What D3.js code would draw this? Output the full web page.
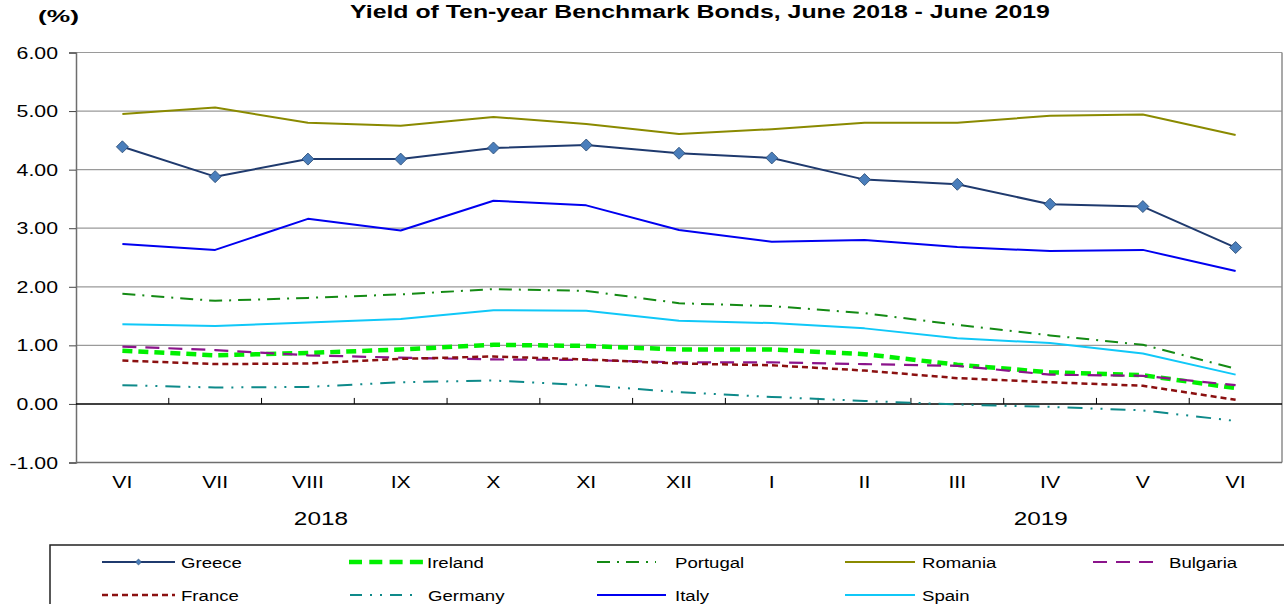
<!DOCTYPE html>
<html>
<head>
<meta charset="utf-8">
<script src="https://cdn.jsdelivr.net/npm/d3@7"></script>
<style>
  html, body { margin: 0; padding: 0; background: #fff; }
  svg { display: block; }
  text { font-family: "Liberation Sans", Arial, sans-serif; fill: #000; }
</style>
</head>
<body>
<svg id="chart" width="1284" height="604"></svg>
<script>
const months = ["VI","VII","VIII","IX","X","XI","XII","I","II","III","IV","V","VI "];
const yTicks = [-1, 0, 1, 2, 3, 4, 5, 6];
const years = [{label: "2018", at: 2.64}, {label: "2019", at: 10.4}];

const greece   = [4.39, 3.88, 4.18, 4.18, 4.37, 4.42, 4.28, 4.20, 3.83, 3.75, 3.41, 3.37, 2.67];
const ireland  = [0.91, 0.83, 0.87, 0.93, 1.01, 0.99, 0.93, 0.93, 0.85, 0.67, 0.54, 0.49, 0.27];
const portugal = [1.88, 1.76, 1.81, 1.87, 1.96, 1.93, 1.72, 1.67, 1.55, 1.35, 1.17, 1.01, 0.60];
const romania  = [4.95, 5.06, 4.80, 4.75, 4.90, 4.78, 4.61, 4.69, 4.80, 4.80, 4.92, 4.94, 4.59];
const bulgaria = [0.98, 0.92, 0.83, 0.79, 0.76, 0.75, 0.71, 0.71, 0.68, 0.65, 0.50, 0.48, 0.32];
const france   = [0.74, 0.68, 0.69, 0.77, 0.81, 0.76, 0.69, 0.66, 0.57, 0.44, 0.37, 0.31, 0.07];
const germany  = [0.32, 0.28, 0.29, 0.37, 0.40, 0.32, 0.20, 0.12, 0.05, -0.01, -0.05, -0.11, -0.29];
const italy    = [2.73, 2.63, 3.16, 2.96, 3.47, 3.39, 2.97, 2.77, 2.80, 2.68, 2.61, 2.63, 2.27];
const spain    = [1.36, 1.33, 1.39, 1.45, 1.60, 1.59, 1.42, 1.38, 1.29, 1.12, 1.04, 0.86, 0.50];

const seriesNames = ["Greece","Ireland","Portugal","Romania","Bulgaria","France","Germany","Italy","Spain"];
const seriesData = [greece, ireland, portugal, romania, bulgaria, france, germany, italy, spain];
const seriesStyle = {
  Greece:   {color: "#1F3A6E", width: 2,   dash: null, marker: true},
  Ireland:  {color: "#00F000", width: 4.5, dash: "10,6", ldash: "13,7.3"},
  Portugal: {color: "#148A14", width: 2,   dash: "13,7,2,7"},
  Romania:  {color: "#8A8A00", width: 2,   dash: null},
  Bulgaria: {color: "#8B148B", width: 2.2, dash: "14,9"},
  France:   {color: "#8B1010", width: 2.5, dash: "6,4"},
  Germany:  {color: "#0E8A8A", width: 2,   dash: "15,8,2,8,2,8", ldash: "12,8,2,8,2,8"},
  Italy:    {color: "#0000F0", width: 2,   dash: null},
  Spain:    {color: "#10C8F8", width: 2,   dash: null}
};

const SX = 1.33; // horizontal stretch of text in reference
const svg = d3.select("#chart");
const fmt = v => d3.format(".2f")(v).replace("\u2212", "-");

function stext(g, px, py, str, opts) {
  opts = opts || {};
  return g.append("text")
    .attr("transform", `translate(${px},${py}) scale(${opts.sx || SX},1)`)
    .attr("text-anchor", opts.anchor || "start")
    .attr("font-size", opts.size || 16)
    .attr("font-weight", opts.bold ? "bold" : "normal")
    .text(str);
}

const pLeft = 76, pRight = 1282, pTop = 52.5, pBottom = 462.5;
const x = d3.scaleBand().domain(months).range([pLeft, pRight]).paddingInner(0).paddingOuter(0);
const xc = (i) => x(months[i]) + x.bandwidth() / 2;
const y = d3.scaleLinear().domain([-1, 6]).range([pBottom, pTop]);

// gridlines
svg.append("g").selectAll("line").data(yTicks.filter(v => v > 0))
  .join("line")
  .attr("x1", pLeft).attr("x2", pRight)
  .attr("y1", d => y(d)).attr("y2", d => y(d))
  .attr("stroke", "#9a9a9a").attr("stroke-width", 1.2);

// right border
svg.append("line").attr("x1", pRight).attr("x2", pRight).attr("y1", pTop).attr("y2", pBottom)
  .attr("stroke", "#8c8c8c").attr("stroke-width", 1.5);
// bottom border
svg.append("line").attr("x1", pLeft).attr("x2", pRight).attr("y1", pBottom).attr("y2", pBottom)
  .attr("stroke", "#6e6e6e").attr("stroke-width", 1.5);

// y axis
const yAxis = d3.axisLeft(y).tickValues(yTicks).tickSize(7).tickPadding(7).tickFormat(fmt);
const ga = svg.append("g").attr("transform", `translate(${pLeft},0)`).call(yAxis);
ga.select(".domain").attr("stroke", "#6e6e6e").attr("stroke-width", 1.5);
ga.selectAll(".tick line").attr("stroke", "#444");
ga.selectAll(".tick text").remove();
yTicks.forEach(v => {
  stext(svg, 58, y(v) + 6, fmt(v), {anchor: "end", size: 16});
});

// zero axis with category ticks
svg.append("line").attr("x1", pLeft).attr("x2", pRight).attr("y1", y(0)).attr("y2", y(0))
  .attr("stroke", "#000").attr("stroke-width", 1.5);
const xAxis = d3.axisTop(x).tickSize(6).tickFormat("");
const gx = svg.append("g").attr("transform", `translate(0,${y(0)})`).call(xAxis);
gx.select(".domain").remove();
gx.selectAll(".tick").attr("transform", d => `translate(${x(d) + x.bandwidth()},0)`);
gx.selectAll(".tick").filter((d, i) => i === months.length - 1).remove();
gx.selectAll(".tick line").attr("stroke", "#000").attr("stroke-width", 1);

// month labels
months.forEach((m, i) => {
  stext(svg, xc(i), 488, m.trim(), {anchor: "middle", size: 16});
});
// years
years.forEach(yy => {
  stext(svg, pLeft + x.bandwidth() * yy.at, 525, yy.label, {anchor: "middle", size: 19, sx: 1.28});
});

// lines
const line = d3.line().x((d, i) => xc(i)).y(d => y(d));
seriesNames.forEach((name, k) => {
  const st = seriesStyle[name];
  const p = svg.append("path").datum(seriesData[k])
    .attr("d", line).attr("fill", "none")
    .attr("stroke", st.color).attr("stroke-width", st.width)
    .attr("stroke-linejoin", "round");
  if (st.dash) p.attr("stroke-dasharray", st.dash);
});
// Greece markers
const diamond = d3.symbol().type(d3.symbolSquare).size(72);
svg.append("g").selectAll("path").data(greece).join("path")
  .attr("d", diamond)
  .attr("transform", (d, i) => `translate(${xc(i)},${y(d)}) rotate(45)`)
  .attr("fill", "#4A7EBB").attr("stroke", "#2C4D75").attr("stroke-width", 0.8);

// title
stext(svg, 700, 18, "Yield of Ten-year Benchmark Bonds, June 2018 - June 2019", {anchor: "middle", size: 18, bold: true, sx: 1.38});
stext(svg, 38, 22, "(%)", {anchor: "start", size: 17, bold: true, sx: 1.55});

// legend
svg.append("rect").attr("x", 50).attr("y", 545).attr("width", 1300).attr("height", 100)
  .attr("fill", "none").attr("stroke", "#222").attr("stroke-width", 1.5);
const legendPos = {
  Greece:   {x1: 102, x2: 175, tx: 181, y: 562},
  Ireland:  {x1: 349, x2: 423, tx: 427, y: 562},
  Portugal: {x1: 597, x2: 656, tx: 675, y: 562},
  Romania:  {x1: 845, x2: 915, tx: 922, y: 562},
  Bulgaria: {x1: 1093, x2: 1162, tx: 1169, y: 562},
  France:   {x1: 102, x2: 175, tx: 181, y: 595},
  Germany:  {x1: 350, x2: 419, tx: 428, y: 595},
  Italy:    {x1: 597, x2: 666, tx: 675, y: 595},
  Spain:    {x1: 845, x2: 915, tx: 922, y: 595}
};
seriesNames.forEach(name => {
  const st = seriesStyle[name], lp = legendPos[name];
  const l = svg.append("line").attr("x1", lp.x1).attr("x2", lp.x2).attr("y1", lp.y).attr("y2", lp.y)
    .attr("stroke", st.color).attr("stroke-width", st.width);
  if (st.ldash || st.dash) l.attr("stroke-dasharray", st.ldash || st.dash);
  if (st.marker) {
    svg.append("path").attr("d", d3.symbol().type(d3.symbolSquare).size(18))
      .attr("transform", `translate(${(lp.x1 + lp.x2) / 2},${lp.y}) rotate(45)`)
      .attr("fill", "#4A7EBB").attr("stroke", "#2C4D75").attr("stroke-width", 0.6);
  }
  stext(svg, lp.tx, lp.y + 5.5, name, {size: 15.5, sx: 1.2});
});
</script>
</body>
</html>
